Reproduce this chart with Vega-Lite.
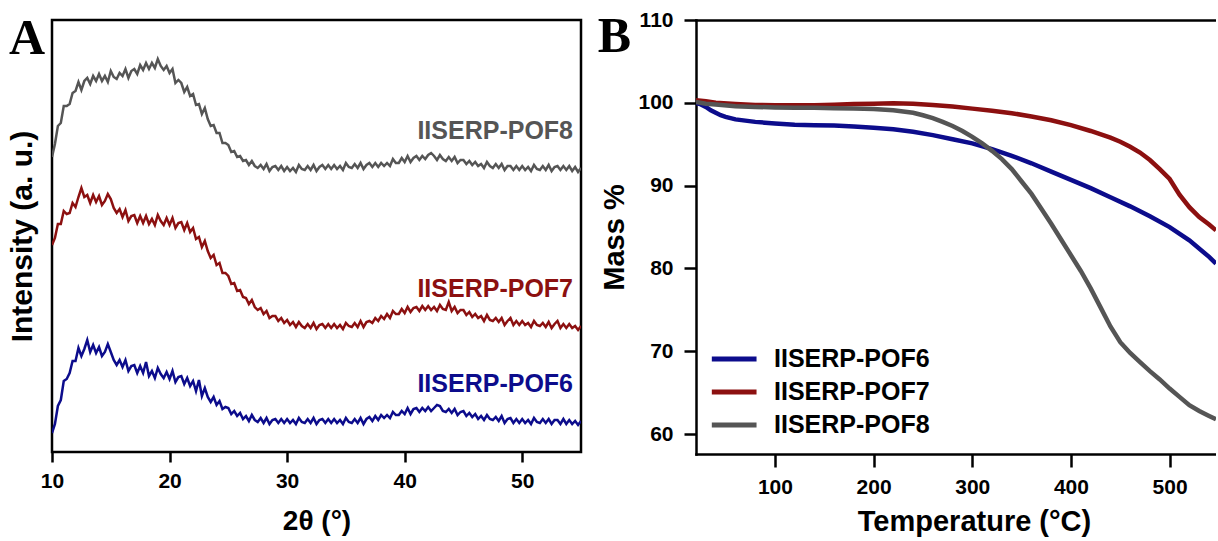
{
"$schema":"https://vega.github.io/schema/vega-lite/v6.json",
"background":"white",
"padding":{"left":5,"top":9,"right":0,"bottom":0},
"bounds":"flush",
"spacing":115,
"config":{"font":"Liberation Sans","view":{"stroke":null}},
"resolve":{"scale":{"color":"independent"}},
"datasets":{
"xrd":[
{"s":"IISERP-POF8","t":10,"i":295},{"s":"IISERP-POF8","t":10.25,"i":308},{"s":"IISERP-POF8","t":10.5,"i":326},{"s":"IISERP-POF8","t":10.75,"i":329},{"s":"IISERP-POF8","t":11,"i":346},{"s":"IISERP-POF8","t":11.25,"i":346},{"s":"IISERP-POF8","t":11.5,"i":348},{"s":"IISERP-POF8","t":11.75,"i":359},{"s":"IISERP-POF8","t":12,"i":361},{"s":"IISERP-POF8","t":12.25,"i":370},{"s":"IISERP-POF8","t":12.5,"i":362},{"s":"IISERP-POF8","t":12.75,"i":371},{"s":"IISERP-POF8","t":13,"i":374},{"s":"IISERP-POF8","t":13.25,"i":368},{"s":"IISERP-POF8","t":13.5,"i":376},{"s":"IISERP-POF8","t":13.75,"i":371},{"s":"IISERP-POF8","t":14,"i":378},{"s":"IISERP-POF8","t":14.25,"i":371},{"s":"IISERP-POF8","t":14.5,"i":376},{"s":"IISERP-POF8","t":14.75,"i":370},{"s":"IISERP-POF8","t":15,"i":381},{"s":"IISERP-POF8","t":15.25,"i":375},{"s":"IISERP-POF8","t":15.5,"i":373},{"s":"IISERP-POF8","t":15.75,"i":379},{"s":"IISERP-POF8","t":16,"i":376},{"s":"IISERP-POF8","t":16.25,"i":383},{"s":"IISERP-POF8","t":16.5,"i":374},{"s":"IISERP-POF8","t":16.75,"i":381},{"s":"IISERP-POF8","t":17,"i":383},{"s":"IISERP-POF8","t":17.25,"i":378},{"s":"IISERP-POF8","t":17.5,"i":387},{"s":"IISERP-POF8","t":17.75,"i":382},{"s":"IISERP-POF8","t":18,"i":389},{"s":"IISERP-POF8","t":18.25,"i":383},{"s":"IISERP-POF8","t":18.5,"i":389},{"s":"IISERP-POF8","t":18.75,"i":384},{"s":"IISERP-POF8","t":19,"i":393},{"s":"IISERP-POF8","t":19.25,"i":386},{"s":"IISERP-POF8","t":19.5,"i":382},{"s":"IISERP-POF8","t":19.75,"i":386},{"s":"IISERP-POF8","t":20,"i":379},{"s":"IISERP-POF8","t":20.25,"i":383},{"s":"IISERP-POF8","t":20.5,"i":369},{"s":"IISERP-POF8","t":20.75,"i":372},{"s":"IISERP-POF8","t":21,"i":369},{"s":"IISERP-POF8","t":21.25,"i":360},{"s":"IISERP-POF8","t":21.5,"i":365},{"s":"IISERP-POF8","t":21.75,"i":356},{"s":"IISERP-POF8","t":22,"i":358},{"s":"IISERP-POF8","t":22.25,"i":347},{"s":"IISERP-POF8","t":22.5,"i":348},{"s":"IISERP-POF8","t":22.75,"i":338},{"s":"IISERP-POF8","t":23,"i":344},{"s":"IISERP-POF8","t":23.25,"i":333},{"s":"IISERP-POF8","t":23.5,"i":326},{"s":"IISERP-POF8","t":23.75,"i":327},{"s":"IISERP-POF8","t":24,"i":319},{"s":"IISERP-POF8","t":24.25,"i":319},{"s":"IISERP-POF8","t":24.5,"i":309},{"s":"IISERP-POF8","t":24.75,"i":309},{"s":"IISERP-POF8","t":25,"i":307},{"s":"IISERP-POF8","t":25.25,"i":300},{"s":"IISERP-POF8","t":25.5,"i":301},{"s":"IISERP-POF8","t":25.75,"i":295},{"s":"IISERP-POF8","t":26,"i":296},{"s":"IISERP-POF8","t":26.25,"i":291},{"s":"IISERP-POF8","t":26.5,"i":292},{"s":"IISERP-POF8","t":26.75,"i":287},{"s":"IISERP-POF8","t":27,"i":291},{"s":"IISERP-POF8","t":27.25,"i":286},{"s":"IISERP-POF8","t":27.5,"i":284},{"s":"IISERP-POF8","t":27.75,"i":287},{"s":"IISERP-POF8","t":28,"i":283},{"s":"IISERP-POF8","t":28.25,"i":288},{"s":"IISERP-POF8","t":28.5,"i":281},{"s":"IISERP-POF8","t":28.75,"i":285},{"s":"IISERP-POF8","t":29,"i":286},{"s":"IISERP-POF8","t":29.25,"i":282},{"s":"IISERP-POF8","t":29.5,"i":286},{"s":"IISERP-POF8","t":29.75,"i":281},{"s":"IISERP-POF8","t":30,"i":285},{"s":"IISERP-POF8","t":30.25,"i":281},{"s":"IISERP-POF8","t":30.5,"i":284},{"s":"IISERP-POF8","t":30.75,"i":280},{"s":"IISERP-POF8","t":31,"i":287},{"s":"IISERP-POF8","t":31.25,"i":283},{"s":"IISERP-POF8","t":31.5,"i":282},{"s":"IISERP-POF8","t":31.75,"i":286},{"s":"IISERP-POF8","t":32,"i":282},{"s":"IISERP-POF8","t":32.25,"i":287},{"s":"IISERP-POF8","t":32.5,"i":281},{"s":"IISERP-POF8","t":32.75,"i":285},{"s":"IISERP-POF8","t":33,"i":287},{"s":"IISERP-POF8","t":33.25,"i":283},{"s":"IISERP-POF8","t":33.5,"i":287},{"s":"IISERP-POF8","t":33.75,"i":283},{"s":"IISERP-POF8","t":34,"i":287},{"s":"IISERP-POF8","t":34.25,"i":283},{"s":"IISERP-POF8","t":34.5,"i":286},{"s":"IISERP-POF8","t":34.75,"i":282},{"s":"IISERP-POF8","t":35,"i":289},{"s":"IISERP-POF8","t":35.25,"i":285},{"s":"IISERP-POF8","t":35.5,"i":284},{"s":"IISERP-POF8","t":35.75,"i":288},{"s":"IISERP-POF8","t":36,"i":284},{"s":"IISERP-POF8","t":36.25,"i":289},{"s":"IISERP-POF8","t":36.5,"i":283},{"s":"IISERP-POF8","t":36.75,"i":287},{"s":"IISERP-POF8","t":37,"i":289},{"s":"IISERP-POF8","t":37.25,"i":285},{"s":"IISERP-POF8","t":37.5,"i":289},{"s":"IISERP-POF8","t":37.75,"i":285},{"s":"IISERP-POF8","t":38,"i":289},{"s":"IISERP-POF8","t":38.25,"i":286},{"s":"IISERP-POF8","t":38.5,"i":289},{"s":"IISERP-POF8","t":38.75,"i":286},{"s":"IISERP-POF8","t":39,"i":293},{"s":"IISERP-POF8","t":39.25,"i":289},{"s":"IISERP-POF8","t":39.5,"i":289},{"s":"IISERP-POF8","t":39.75,"i":294},{"s":"IISERP-POF8","t":40,"i":290},{"s":"IISERP-POF8","t":40.25,"i":296},{"s":"IISERP-POF8","t":40.5,"i":290},{"s":"IISERP-POF8","t":40.75,"i":294},{"s":"IISERP-POF8","t":41,"i":296},{"s":"IISERP-POF8","t":41.25,"i":292},{"s":"IISERP-POF8","t":41.5,"i":296},{"s":"IISERP-POF8","t":41.75,"i":293},{"s":"IISERP-POF8","t":42,"i":297},{"s":"IISERP-POF8","t":42.25,"i":299},{"s":"IISERP-POF8","t":42.5,"i":296},{"s":"IISERP-POF8","t":42.75,"i":292},{"s":"IISERP-POF8","t":43,"i":297},{"s":"IISERP-POF8","t":43.25,"i":293},{"s":"IISERP-POF8","t":43.5,"i":291},{"s":"IISERP-POF8","t":43.75,"i":295},{"s":"IISERP-POF8","t":44,"i":291},{"s":"IISERP-POF8","t":44.25,"i":295},{"s":"IISERP-POF8","t":44.5,"i":289},{"s":"IISERP-POF8","t":44.75,"i":292},{"s":"IISERP-POF8","t":45,"i":292},{"s":"IISERP-POF8","t":45.25,"i":288},{"s":"IISERP-POF8","t":45.5,"i":291},{"s":"IISERP-POF8","t":45.75,"i":287},{"s":"IISERP-POF8","t":46,"i":290},{"s":"IISERP-POF8","t":46.25,"i":286},{"s":"IISERP-POF8","t":46.5,"i":288},{"s":"IISERP-POF8","t":46.75,"i":284},{"s":"IISERP-POF8","t":47,"i":290},{"s":"IISERP-POF8","t":47.25,"i":286},{"s":"IISERP-POF8","t":47.5,"i":284},{"s":"IISERP-POF8","t":47.75,"i":288},{"s":"IISERP-POF8","t":48,"i":284},{"s":"IISERP-POF8","t":48.25,"i":288},{"s":"IISERP-POF8","t":48.5,"i":282},{"s":"IISERP-POF8","t":48.75,"i":286},{"s":"IISERP-POF8","t":49,"i":286},{"s":"IISERP-POF8","t":49.25,"i":282},{"s":"IISERP-POF8","t":49.5,"i":286},{"s":"IISERP-POF8","t":49.75,"i":282},{"s":"IISERP-POF8","t":50,"i":286},{"s":"IISERP-POF8","t":50.25,"i":282},{"s":"IISERP-POF8","t":50.5,"i":285},{"s":"IISERP-POF8","t":50.75,"i":281},{"s":"IISERP-POF8","t":51,"i":287},{"s":"IISERP-POF8","t":51.25,"i":283},{"s":"IISERP-POF8","t":51.5,"i":282},{"s":"IISERP-POF8","t":51.75,"i":286},{"s":"IISERP-POF8","t":52,"i":282},{"s":"IISERP-POF8","t":52.25,"i":287},{"s":"IISERP-POF8","t":52.5,"i":281},{"s":"IISERP-POF8","t":52.75,"i":285},{"s":"IISERP-POF8","t":53,"i":286},{"s":"IISERP-POF8","t":53.25,"i":282},{"s":"IISERP-POF8","t":53.5,"i":286},{"s":"IISERP-POF8","t":53.75,"i":282},{"s":"IISERP-POF8","t":54,"i":286},{"s":"IISERP-POF8","t":54.25,"i":281},{"s":"IISERP-POF8","t":54.5,"i":285},{"s":"IISERP-POF8","t":54.75,"i":280},{"s":"IISERP-POF8","t":55,"i":284},
{"s":"IISERP-POF7","t":10,"i":207},{"s":"IISERP-POF7","t":10.25,"i":214},{"s":"IISERP-POF7","t":10.5,"i":228},{"s":"IISERP-POF7","t":10.75,"i":228},{"s":"IISERP-POF7","t":11,"i":241},{"s":"IISERP-POF7","t":11.25,"i":238},{"s":"IISERP-POF7","t":11.5,"i":239},{"s":"IISERP-POF7","t":11.75,"i":249},{"s":"IISERP-POF7","t":12,"i":245},{"s":"IISERP-POF7","t":12.25,"i":255},{"s":"IISERP-POF7","t":12.5,"i":264},{"s":"IISERP-POF7","t":12.75,"i":255},{"s":"IISERP-POF7","t":13,"i":257},{"s":"IISERP-POF7","t":13.25,"i":249},{"s":"IISERP-POF7","t":13.5,"i":257},{"s":"IISERP-POF7","t":13.75,"i":250},{"s":"IISERP-POF7","t":14,"i":256},{"s":"IISERP-POF7","t":14.25,"i":247},{"s":"IISERP-POF7","t":14.5,"i":251},{"s":"IISERP-POF7","t":14.75,"i":258},{"s":"IISERP-POF7","t":15,"i":253},{"s":"IISERP-POF7","t":15.25,"i":244},{"s":"IISERP-POF7","t":15.5,"i":239},{"s":"IISERP-POF7","t":15.75,"i":243},{"s":"IISERP-POF7","t":16,"i":235},{"s":"IISERP-POF7","t":16.25,"i":242},{"s":"IISERP-POF7","t":16.5,"i":231},{"s":"IISERP-POF7","t":16.75,"i":236},{"s":"IISERP-POF7","t":17,"i":237},{"s":"IISERP-POF7","t":17.25,"i":229},{"s":"IISERP-POF7","t":17.5,"i":236},{"s":"IISERP-POF7","t":17.75,"i":229},{"s":"IISERP-POF7","t":18,"i":236},{"s":"IISERP-POF7","t":18.25,"i":228},{"s":"IISERP-POF7","t":18.5,"i":233},{"s":"IISERP-POF7","t":18.75,"i":227},{"s":"IISERP-POF7","t":19,"i":237},{"s":"IISERP-POF7","t":19.25,"i":231},{"s":"IISERP-POF7","t":19.5,"i":227},{"s":"IISERP-POF7","t":19.75,"i":234},{"s":"IISERP-POF7","t":20,"i":227},{"s":"IISERP-POF7","t":20.25,"i":234},{"s":"IISERP-POF7","t":20.5,"i":224},{"s":"IISERP-POF7","t":20.75,"i":229},{"s":"IISERP-POF7","t":21,"i":230},{"s":"IISERP-POF7","t":21.25,"i":222},{"s":"IISERP-POF7","t":21.5,"i":229},{"s":"IISERP-POF7","t":21.75,"i":220},{"s":"IISERP-POF7","t":22,"i":224},{"s":"IISERP-POF7","t":22.25,"i":213},{"s":"IISERP-POF7","t":22.5,"i":215},{"s":"IISERP-POF7","t":22.75,"i":205},{"s":"IISERP-POF7","t":23,"i":211},{"s":"IISERP-POF7","t":23.25,"i":201},{"s":"IISERP-POF7","t":23.5,"i":194},{"s":"IISERP-POF7","t":23.75,"i":197},{"s":"IISERP-POF7","t":24,"i":187},{"s":"IISERP-POF7","t":24.25,"i":189},{"s":"IISERP-POF7","t":24.5,"i":179},{"s":"IISERP-POF7","t":24.75,"i":179},{"s":"IISERP-POF7","t":25,"i":176},{"s":"IISERP-POF7","t":25.25,"i":168},{"s":"IISERP-POF7","t":25.5,"i":169},{"s":"IISERP-POF7","t":25.75,"i":161},{"s":"IISERP-POF7","t":26,"i":162},{"s":"IISERP-POF7","t":26.25,"i":155},{"s":"IISERP-POF7","t":26.5,"i":154},{"s":"IISERP-POF7","t":26.75,"i":148},{"s":"IISERP-POF7","t":27,"i":152},{"s":"IISERP-POF7","t":27.25,"i":145},{"s":"IISERP-POF7","t":27.5,"i":142},{"s":"IISERP-POF7","t":27.75,"i":144},{"s":"IISERP-POF7","t":28,"i":138},{"s":"IISERP-POF7","t":28.25,"i":141},{"s":"IISERP-POF7","t":28.5,"i":134},{"s":"IISERP-POF7","t":28.75,"i":136},{"s":"IISERP-POF7","t":29,"i":136},{"s":"IISERP-POF7","t":29.25,"i":131},{"s":"IISERP-POF7","t":29.5,"i":134},{"s":"IISERP-POF7","t":29.75,"i":129},{"s":"IISERP-POF7","t":30,"i":132},{"s":"IISERP-POF7","t":30.25,"i":127},{"s":"IISERP-POF7","t":30.5,"i":130},{"s":"IISERP-POF7","t":30.75,"i":125},{"s":"IISERP-POF7","t":31,"i":130},{"s":"IISERP-POF7","t":31.25,"i":126},{"s":"IISERP-POF7","t":31.5,"i":124},{"s":"IISERP-POF7","t":31.75,"i":128},{"s":"IISERP-POF7","t":32,"i":124},{"s":"IISERP-POF7","t":32.25,"i":129},{"s":"IISERP-POF7","t":32.5,"i":123},{"s":"IISERP-POF7","t":32.75,"i":127},{"s":"IISERP-POF7","t":33,"i":128},{"s":"IISERP-POF7","t":33.25,"i":124},{"s":"IISERP-POF7","t":33.5,"i":128},{"s":"IISERP-POF7","t":33.75,"i":124},{"s":"IISERP-POF7","t":34,"i":128},{"s":"IISERP-POF7","t":34.25,"i":124},{"s":"IISERP-POF7","t":34.5,"i":127},{"s":"IISERP-POF7","t":34.75,"i":123},{"s":"IISERP-POF7","t":35,"i":129},{"s":"IISERP-POF7","t":35.25,"i":126},{"s":"IISERP-POF7","t":35.5,"i":125},{"s":"IISERP-POF7","t":35.75,"i":129},{"s":"IISERP-POF7","t":36,"i":125},{"s":"IISERP-POF7","t":36.25,"i":131},{"s":"IISERP-POF7","t":36.5,"i":125},{"s":"IISERP-POF7","t":36.75,"i":130},{"s":"IISERP-POF7","t":37,"i":131},{"s":"IISERP-POF7","t":37.25,"i":129},{"s":"IISERP-POF7","t":37.5,"i":134},{"s":"IISERP-POF7","t":37.75,"i":131},{"s":"IISERP-POF7","t":38,"i":136},{"s":"IISERP-POF7","t":38.25,"i":133},{"s":"IISERP-POF7","t":38.5,"i":138},{"s":"IISERP-POF7","t":38.75,"i":134},{"s":"IISERP-POF7","t":39,"i":141},{"s":"IISERP-POF7","t":39.25,"i":138},{"s":"IISERP-POF7","t":39.5,"i":138},{"s":"IISERP-POF7","t":39.75,"i":143},{"s":"IISERP-POF7","t":40,"i":139},{"s":"IISERP-POF7","t":40.25,"i":145},{"s":"IISERP-POF7","t":40.5,"i":140},{"s":"IISERP-POF7","t":40.75,"i":144},{"s":"IISERP-POF7","t":41,"i":145},{"s":"IISERP-POF7","t":41.25,"i":141},{"s":"IISERP-POF7","t":41.5,"i":146},{"s":"IISERP-POF7","t":41.75,"i":142},{"s":"IISERP-POF7","t":42,"i":146},{"s":"IISERP-POF7","t":42.25,"i":142},{"s":"IISERP-POF7","t":42.5,"i":145},{"s":"IISERP-POF7","t":42.75,"i":141},{"s":"IISERP-POF7","t":43,"i":147},{"s":"IISERP-POF7","t":43.25,"i":143},{"s":"IISERP-POF7","t":43.5,"i":142},{"s":"IISERP-POF7","t":43.75,"i":150},{"s":"IISERP-POF7","t":44,"i":141},{"s":"IISERP-POF7","t":44.25,"i":145},{"s":"IISERP-POF7","t":44.5,"i":139},{"s":"IISERP-POF7","t":44.75,"i":142},{"s":"IISERP-POF7","t":45,"i":142},{"s":"IISERP-POF7","t":45.25,"i":137},{"s":"IISERP-POF7","t":45.5,"i":140},{"s":"IISERP-POF7","t":45.75,"i":135},{"s":"IISERP-POF7","t":46,"i":138},{"s":"IISERP-POF7","t":46.25,"i":134},{"s":"IISERP-POF7","t":46.5,"i":136},{"s":"IISERP-POF7","t":46.75,"i":131},{"s":"IISERP-POF7","t":47,"i":137},{"s":"IISERP-POF7","t":47.25,"i":132},{"s":"IISERP-POF7","t":47.5,"i":131},{"s":"IISERP-POF7","t":47.75,"i":134},{"s":"IISERP-POF7","t":48,"i":130},{"s":"IISERP-POF7","t":48.25,"i":134},{"s":"IISERP-POF7","t":48.5,"i":127},{"s":"IISERP-POF7","t":48.75,"i":131},{"s":"IISERP-POF7","t":49,"i":134},{"s":"IISERP-POF7","t":49.25,"i":127},{"s":"IISERP-POF7","t":49.5,"i":131},{"s":"IISERP-POF7","t":49.75,"i":127},{"s":"IISERP-POF7","t":50,"i":131},{"s":"IISERP-POF7","t":50.25,"i":127},{"s":"IISERP-POF7","t":50.5,"i":129},{"s":"IISERP-POF7","t":50.75,"i":125},{"s":"IISERP-POF7","t":51,"i":131},{"s":"IISERP-POF7","t":51.25,"i":127},{"s":"IISERP-POF7","t":51.5,"i":126},{"s":"IISERP-POF7","t":51.75,"i":129},{"s":"IISERP-POF7","t":52,"i":125},{"s":"IISERP-POF7","t":52.25,"i":130},{"s":"IISERP-POF7","t":52.5,"i":124},{"s":"IISERP-POF7","t":52.75,"i":128},{"s":"IISERP-POF7","t":53,"i":131},{"s":"IISERP-POF7","t":53.25,"i":124},{"s":"IISERP-POF7","t":53.5,"i":128},{"s":"IISERP-POF7","t":53.75,"i":124},{"s":"IISERP-POF7","t":54,"i":128},{"s":"IISERP-POF7","t":54.25,"i":124},{"s":"IISERP-POF7","t":54.5,"i":126},{"s":"IISERP-POF7","t":54.75,"i":122},{"s":"IISERP-POF7","t":55,"i":126},
{"s":"IISERP-POF6","t":10,"i":19},{"s":"IISERP-POF6","t":10.25,"i":28},{"s":"IISERP-POF6","t":10.5,"i":46},{"s":"IISERP-POF6","t":10.75,"i":52},{"s":"IISERP-POF6","t":11,"i":71},{"s":"IISERP-POF6","t":11.25,"i":73},{"s":"IISERP-POF6","t":11.5,"i":79},{"s":"IISERP-POF6","t":11.75,"i":91},{"s":"IISERP-POF6","t":12,"i":91},{"s":"IISERP-POF6","t":12.25,"i":104},{"s":"IISERP-POF6","t":12.5,"i":96},{"s":"IISERP-POF6","t":12.75,"i":103},{"s":"IISERP-POF6","t":13,"i":112},{"s":"IISERP-POF6","t":13.25,"i":100},{"s":"IISERP-POF6","t":13.5,"i":107},{"s":"IISERP-POF6","t":13.75,"i":99},{"s":"IISERP-POF6","t":14,"i":105},{"s":"IISERP-POF6","t":14.25,"i":96},{"s":"IISERP-POF6","t":14.5,"i":100},{"s":"IISERP-POF6","t":14.75,"i":108},{"s":"IISERP-POF6","t":15,"i":100},{"s":"IISERP-POF6","t":15.25,"i":92},{"s":"IISERP-POF6","t":15.5,"i":87},{"s":"IISERP-POF6","t":15.75,"i":92},{"s":"IISERP-POF6","t":16,"i":85},{"s":"IISERP-POF6","t":16.25,"i":92},{"s":"IISERP-POF6","t":16.5,"i":81},{"s":"IISERP-POF6","t":16.75,"i":86},{"s":"IISERP-POF6","t":17,"i":87},{"s":"IISERP-POF6","t":17.25,"i":79},{"s":"IISERP-POF6","t":17.5,"i":86},{"s":"IISERP-POF6","t":17.75,"i":79},{"s":"IISERP-POF6","t":18,"i":90},{"s":"IISERP-POF6","t":18.25,"i":76},{"s":"IISERP-POF6","t":18.5,"i":81},{"s":"IISERP-POF6","t":18.75,"i":74},{"s":"IISERP-POF6","t":19,"i":84},{"s":"IISERP-POF6","t":19.25,"i":78},{"s":"IISERP-POF6","t":19.5,"i":74},{"s":"IISERP-POF6","t":19.75,"i":80},{"s":"IISERP-POF6","t":20,"i":73},{"s":"IISERP-POF6","t":20.25,"i":81},{"s":"IISERP-POF6","t":20.5,"i":70},{"s":"IISERP-POF6","t":20.75,"i":75},{"s":"IISERP-POF6","t":21,"i":76},{"s":"IISERP-POF6","t":21.25,"i":68},{"s":"IISERP-POF6","t":21.5,"i":74},{"s":"IISERP-POF6","t":21.75,"i":66},{"s":"IISERP-POF6","t":22,"i":71},{"s":"IISERP-POF6","t":22.25,"i":61},{"s":"IISERP-POF6","t":22.5,"i":72},{"s":"IISERP-POF6","t":22.75,"i":56},{"s":"IISERP-POF6","t":23,"i":64},{"s":"IISERP-POF6","t":23.25,"i":55},{"s":"IISERP-POF6","t":23.5,"i":50},{"s":"IISERP-POF6","t":23.75,"i":55},{"s":"IISERP-POF6","t":24,"i":47},{"s":"IISERP-POF6","t":24.25,"i":51},{"s":"IISERP-POF6","t":24.5,"i":43},{"s":"IISERP-POF6","t":24.75,"i":45},{"s":"IISERP-POF6","t":25,"i":44},{"s":"IISERP-POF6","t":25.25,"i":38},{"s":"IISERP-POF6","t":25.5,"i":41},{"s":"IISERP-POF6","t":25.75,"i":36},{"s":"IISERP-POF6","t":26,"i":39},{"s":"IISERP-POF6","t":26.25,"i":33},{"s":"IISERP-POF6","t":26.5,"i":36},{"s":"IISERP-POF6","t":26.75,"i":31},{"s":"IISERP-POF6","t":27,"i":37},{"s":"IISERP-POF6","t":27.25,"i":32},{"s":"IISERP-POF6","t":27.5,"i":30},{"s":"IISERP-POF6","t":27.75,"i":34},{"s":"IISERP-POF6","t":28,"i":29},{"s":"IISERP-POF6","t":28.25,"i":34},{"s":"IISERP-POF6","t":28.5,"i":28},{"s":"IISERP-POF6","t":28.75,"i":32},{"s":"IISERP-POF6","t":29,"i":33},{"s":"IISERP-POF6","t":29.25,"i":29},{"s":"IISERP-POF6","t":29.5,"i":33},{"s":"IISERP-POF6","t":29.75,"i":29},{"s":"IISERP-POF6","t":30,"i":33},{"s":"IISERP-POF6","t":30.25,"i":29},{"s":"IISERP-POF6","t":30.5,"i":32},{"s":"IISERP-POF6","t":30.75,"i":28},{"s":"IISERP-POF6","t":31,"i":34},{"s":"IISERP-POF6","t":31.25,"i":30},{"s":"IISERP-POF6","t":31.5,"i":29},{"s":"IISERP-POF6","t":31.75,"i":33},{"s":"IISERP-POF6","t":32,"i":29},{"s":"IISERP-POF6","t":32.25,"i":34},{"s":"IISERP-POF6","t":32.5,"i":28},{"s":"IISERP-POF6","t":32.75,"i":32},{"s":"IISERP-POF6","t":33,"i":33},{"s":"IISERP-POF6","t":33.25,"i":29},{"s":"IISERP-POF6","t":33.5,"i":33},{"s":"IISERP-POF6","t":33.75,"i":29},{"s":"IISERP-POF6","t":34,"i":33},{"s":"IISERP-POF6","t":34.25,"i":29},{"s":"IISERP-POF6","t":34.5,"i":32},{"s":"IISERP-POF6","t":34.75,"i":28},{"s":"IISERP-POF6","t":35,"i":34},{"s":"IISERP-POF6","t":35.25,"i":30},{"s":"IISERP-POF6","t":35.5,"i":29},{"s":"IISERP-POF6","t":35.75,"i":33},{"s":"IISERP-POF6","t":36,"i":29},{"s":"IISERP-POF6","t":36.25,"i":34},{"s":"IISERP-POF6","t":36.5,"i":28},{"s":"IISERP-POF6","t":36.75,"i":33},{"s":"IISERP-POF6","t":37,"i":35},{"s":"IISERP-POF6","t":37.25,"i":31},{"s":"IISERP-POF6","t":37.5,"i":36},{"s":"IISERP-POF6","t":37.75,"i":32},{"s":"IISERP-POF6","t":38,"i":37},{"s":"IISERP-POF6","t":38.25,"i":34},{"s":"IISERP-POF6","t":38.5,"i":37},{"s":"IISERP-POF6","t":38.75,"i":34},{"s":"IISERP-POF6","t":39,"i":40},{"s":"IISERP-POF6","t":39.25,"i":37},{"s":"IISERP-POF6","t":39.5,"i":37},{"s":"IISERP-POF6","t":39.75,"i":41},{"s":"IISERP-POF6","t":40,"i":38},{"s":"IISERP-POF6","t":40.25,"i":44},{"s":"IISERP-POF6","t":40.5,"i":38},{"s":"IISERP-POF6","t":40.75,"i":43},{"s":"IISERP-POF6","t":41,"i":44},{"s":"IISERP-POF6","t":41.25,"i":40},{"s":"IISERP-POF6","t":41.5,"i":44},{"s":"IISERP-POF6","t":41.75,"i":41},{"s":"IISERP-POF6","t":42,"i":45},{"s":"IISERP-POF6","t":42.25,"i":41},{"s":"IISERP-POF6","t":42.5,"i":44},{"s":"IISERP-POF6","t":42.75,"i":47},{"s":"IISERP-POF6","t":43,"i":46},{"s":"IISERP-POF6","t":43.25,"i":41},{"s":"IISERP-POF6","t":43.5,"i":40},{"s":"IISERP-POF6","t":43.75,"i":43},{"s":"IISERP-POF6","t":44,"i":39},{"s":"IISERP-POF6","t":44.25,"i":43},{"s":"IISERP-POF6","t":44.5,"i":37},{"s":"IISERP-POF6","t":44.75,"i":40},{"s":"IISERP-POF6","t":45,"i":41},{"s":"IISERP-POF6","t":45.25,"i":36},{"s":"IISERP-POF6","t":45.5,"i":39},{"s":"IISERP-POF6","t":45.75,"i":35},{"s":"IISERP-POF6","t":46,"i":38},{"s":"IISERP-POF6","t":46.25,"i":33},{"s":"IISERP-POF6","t":46.5,"i":36},{"s":"IISERP-POF6","t":46.75,"i":32},{"s":"IISERP-POF6","t":47,"i":37},{"s":"IISERP-POF6","t":47.25,"i":33},{"s":"IISERP-POF6","t":47.5,"i":32},{"s":"IISERP-POF6","t":47.75,"i":35},{"s":"IISERP-POF6","t":48,"i":31},{"s":"IISERP-POF6","t":48.25,"i":36},{"s":"IISERP-POF6","t":48.5,"i":29},{"s":"IISERP-POF6","t":48.75,"i":33},{"s":"IISERP-POF6","t":49,"i":34},{"s":"IISERP-POF6","t":49.25,"i":29},{"s":"IISERP-POF6","t":49.5,"i":33},{"s":"IISERP-POF6","t":49.75,"i":29},{"s":"IISERP-POF6","t":50,"i":33},{"s":"IISERP-POF6","t":50.25,"i":29},{"s":"IISERP-POF6","t":50.5,"i":32},{"s":"IISERP-POF6","t":50.75,"i":28},{"s":"IISERP-POF6","t":51,"i":34},{"s":"IISERP-POF6","t":51.25,"i":30},{"s":"IISERP-POF6","t":51.5,"i":29},{"s":"IISERP-POF6","t":51.75,"i":33},{"s":"IISERP-POF6","t":52,"i":29},{"s":"IISERP-POF6","t":52.25,"i":33},{"s":"IISERP-POF6","t":52.5,"i":28},{"s":"IISERP-POF6","t":52.75,"i":32},{"s":"IISERP-POF6","t":53,"i":32},{"s":"IISERP-POF6","t":53.25,"i":28},{"s":"IISERP-POF6","t":53.5,"i":33},{"s":"IISERP-POF6","t":53.75,"i":28},{"s":"IISERP-POF6","t":54,"i":32},{"s":"IISERP-POF6","t":54.25,"i":28},{"s":"IISERP-POF6","t":54.5,"i":31},{"s":"IISERP-POF6","t":54.75,"i":27},{"s":"IISERP-POF6","t":55,"i":31}
],
"tga":[
{"s":"IISERP-POF6","T":20,"M":100.0},{"s":"IISERP-POF6","T":25,"M":99.8},{"s":"IISERP-POF6","T":30,"M":99.5},{"s":"IISERP-POF6","T":35,"M":99.1},{"s":"IISERP-POF6","T":40,"M":98.8},{"s":"IISERP-POF6","T":45,"M":98.5},{"s":"IISERP-POF6","T":50,"M":98.3},{"s":"IISERP-POF6","T":60,"M":98.0},{"s":"IISERP-POF6","T":70,"M":97.85},{"s":"IISERP-POF6","T":80,"M":97.7},{"s":"IISERP-POF6","T":90,"M":97.6},{"s":"IISERP-POF6","T":100,"M":97.5},{"s":"IISERP-POF6","T":120,"M":97.35},{"s":"IISERP-POF6","T":140,"M":97.3},{"s":"IISERP-POF6","T":160,"M":97.25},{"s":"IISERP-POF6","T":180,"M":97.15},{"s":"IISERP-POF6","T":200,"M":97.0},{"s":"IISERP-POF6","T":220,"M":96.8},{"s":"IISERP-POF6","T":240,"M":96.5},{"s":"IISERP-POF6","T":260,"M":96.1},{"s":"IISERP-POF6","T":280,"M":95.6},{"s":"IISERP-POF6","T":300,"M":95.1},{"s":"IISERP-POF6","T":320,"M":94.4},{"s":"IISERP-POF6","T":340,"M":93.6},{"s":"IISERP-POF6","T":360,"M":92.7},{"s":"IISERP-POF6","T":380,"M":91.7},{"s":"IISERP-POF6","T":400,"M":90.7},{"s":"IISERP-POF6","T":420,"M":89.7},{"s":"IISERP-POF6","T":440,"M":88.6},{"s":"IISERP-POF6","T":460,"M":87.5},{"s":"IISERP-POF6","T":480,"M":86.3},{"s":"IISERP-POF6","T":500,"M":85.0},{"s":"IISERP-POF6","T":520,"M":83.4},{"s":"IISERP-POF6","T":540,"M":81.4},{"s":"IISERP-POF6","T":547,"M":80.6},
{"s":"IISERP-POF7","T":20,"M":100.3},{"s":"IISERP-POF7","T":30,"M":100.2},{"s":"IISERP-POF7","T":40,"M":100.0},{"s":"IISERP-POF7","T":60,"M":99.85},{"s":"IISERP-POF7","T":80,"M":99.75},{"s":"IISERP-POF7","T":100,"M":99.7},{"s":"IISERP-POF7","T":120,"M":99.7},{"s":"IISERP-POF7","T":140,"M":99.72},{"s":"IISERP-POF7","T":160,"M":99.78},{"s":"IISERP-POF7","T":180,"M":99.85},{"s":"IISERP-POF7","T":200,"M":99.9},{"s":"IISERP-POF7","T":220,"M":99.95},{"s":"IISERP-POF7","T":240,"M":99.9},{"s":"IISERP-POF7","T":260,"M":99.75},{"s":"IISERP-POF7","T":280,"M":99.55},{"s":"IISERP-POF7","T":300,"M":99.3},{"s":"IISERP-POF7","T":320,"M":99.05},{"s":"IISERP-POF7","T":340,"M":98.75},{"s":"IISERP-POF7","T":360,"M":98.35},{"s":"IISERP-POF7","T":380,"M":97.9},{"s":"IISERP-POF7","T":400,"M":97.3},{"s":"IISERP-POF7","T":420,"M":96.6},{"s":"IISERP-POF7","T":440,"M":95.8},{"s":"IISERP-POF7","T":450,"M":95.3},{"s":"IISERP-POF7","T":460,"M":94.7},{"s":"IISERP-POF7","T":470,"M":94.0},{"s":"IISERP-POF7","T":480,"M":93.1},{"s":"IISERP-POF7","T":490,"M":92.0},{"s":"IISERP-POF7","T":500,"M":90.8},{"s":"IISERP-POF7","T":510,"M":88.9},{"s":"IISERP-POF7","T":520,"M":87.4},{"s":"IISERP-POF7","T":530,"M":86.2},{"s":"IISERP-POF7","T":540,"M":85.3},{"s":"IISERP-POF7","T":547,"M":84.6},
{"s":"IISERP-POF8","T":20,"M":100.1},{"s":"IISERP-POF8","T":30,"M":99.9},{"s":"IISERP-POF8","T":40,"M":99.8},{"s":"IISERP-POF8","T":60,"M":99.6},{"s":"IISERP-POF8","T":80,"M":99.5},{"s":"IISERP-POF8","T":100,"M":99.45},{"s":"IISERP-POF8","T":120,"M":99.4},{"s":"IISERP-POF8","T":140,"M":99.4},{"s":"IISERP-POF8","T":160,"M":99.35},{"s":"IISERP-POF8","T":180,"M":99.3},{"s":"IISERP-POF8","T":200,"M":99.25},{"s":"IISERP-POF8","T":220,"M":99.1},{"s":"IISERP-POF8","T":230,"M":98.95},{"s":"IISERP-POF8","T":240,"M":98.8},{"s":"IISERP-POF8","T":250,"M":98.5},{"s":"IISERP-POF8","T":260,"M":98.15},{"s":"IISERP-POF8","T":270,"M":97.7},{"s":"IISERP-POF8","T":280,"M":97.2},{"s":"IISERP-POF8","T":290,"M":96.6},{"s":"IISERP-POF8","T":300,"M":95.9},{"s":"IISERP-POF8","T":310,"M":95.1},{"s":"IISERP-POF8","T":320,"M":94.2},{"s":"IISERP-POF8","T":330,"M":93.2},{"s":"IISERP-POF8","T":340,"M":92.0},{"s":"IISERP-POF8","T":350,"M":90.5},{"s":"IISERP-POF8","T":360,"M":89.0},{"s":"IISERP-POF8","T":370,"M":87.2},{"s":"IISERP-POF8","T":380,"M":85.4},{"s":"IISERP-POF8","T":390,"M":83.5},{"s":"IISERP-POF8","T":400,"M":81.6},{"s":"IISERP-POF8","T":410,"M":79.7},{"s":"IISERP-POF8","T":420,"M":77.6},{"s":"IISERP-POF8","T":430,"M":75.3},{"s":"IISERP-POF8","T":440,"M":73.0},{"s":"IISERP-POF8","T":450,"M":71.1},{"s":"IISERP-POF8","T":460,"M":69.8},{"s":"IISERP-POF8","T":470,"M":68.7},{"s":"IISERP-POF8","T":480,"M":67.6},{"s":"IISERP-POF8","T":490,"M":66.6},{"s":"IISERP-POF8","T":500,"M":65.5},{"s":"IISERP-POF8","T":510,"M":64.5},{"s":"IISERP-POF8","T":520,"M":63.5},{"s":"IISERP-POF8","T":530,"M":62.8},{"s":"IISERP-POF8","T":540,"M":62.2},{"s":"IISERP-POF8","T":547,"M":61.8}
]
},
"hconcat":[
{
"width":529,"height":432,
"view":{"stroke":"black","strokeWidth":2.5},
"layer":[
{"data":{"name":"xrd"},
"mark":{"type":"line","strokeWidth":2.5,"clip":true},
"encoding":{
"x":{"field":"t","type":"quantitative","scale":{"domain":[10,55],"nice":false,"zero":false},"axis":{"values":[10,20,30,40,50],"title":"2θ (°)","domain":false,"grid":false,"tickSize":10,"tickWidth":2.5,"tickColor":"black","labelFontSize":21,"labelFontWeight":"bold","labelColor":"black","labelPadding":8,"labelFlush":false,"titleFontSize":28,"titleFontWeight":"bold","titleColor":"black","titlePadding":16}},
"y":{"field":"i","type":"quantitative","scale":{"domain":[0,432],"nice":false,"zero":false},"axis":{"title":"Intensity (a. u.)","labels":false,"ticks":false,"domain":false,"grid":false,"titleFontSize":30,"titleFontWeight":"bold","titleColor":"black","titlePadding":15}},
"color":{"field":"s","type":"nominal","scale":{"domain":["IISERP-POF6","IISERP-POF7","IISERP-POF8"],"range":["#0c0c8c","#8c1010","#555555"]},"legend":null}
}},
{"data":{"name":"xrd"},
"transform":[{"filter":"datum.t == 55"}],
"mark":{"type":"text","align":"right","baseline":"middle","dx":-8,"dy":-37,"fontSize":25,"fontWeight":"bold"},
"encoding":{
"x":{"field":"t","type":"quantitative"},
"y":{"field":"i","type":"quantitative"},
"text":{"field":"s"},
"color":{"field":"s","type":"nominal","legend":null}
}},
{"data":{"values":[{"panel":"A"}]},
"mark":{"type":"text","font":"Liberation Serif","fontSize":50,"fontWeight":"bold","color":"black","align":"right","baseline":"alphabetic","dx":-7,"dy":34},
"encoding":{"x":{"datum":10},"y":{"datum":432},"text":{"field":"panel"}}}
]
},
{
"width":520,"height":434,
"view":{"stroke":null},
"layer":[
{"data":{"name":"tga"},
"mark":{"type":"line","strokeWidth":4.5,"clip":true},
"encoding":{
"x":{"field":"T","type":"quantitative","scale":{"domain":[20,547],"nice":false,"zero":false},"axis":{"orient":"bottom","values":[100,200,300,400,500],"title":"Temperature (°C)","grid":false,"domainWidth":2.5,"domainColor":"black","domainCap":"square","tickSize":13,"tickWidth":2.5,"tickColor":"black","labelFontSize":21,"labelFontWeight":"bold","labelColor":"black","labelPadding":9,"titleFontSize":29,"titleFontWeight":"bold","titleColor":"black","titlePadding":10,"titleX":278}},
"y":{"field":"M","type":"quantitative","scale":{"domain":[57.6,110],"nice":false,"zero":false},"axis":{"values":[60,70,80,90,100,110],"title":"Mass %","grid":false,"domainWidth":2.5,"domainColor":"black","domainCap":"square","tickSize":12,"tickWidth":2.5,"tickColor":"black","labelFontSize":21,"labelFontWeight":"bold","labelColor":"black","labelPadding":11,"titleFontSize":29,"titleFontWeight":"bold","titleColor":"black","titlePadding":8}},
"color":{"field":"s","type":"nominal","scale":{"domain":["IISERP-POF6","IISERP-POF7","IISERP-POF8"],"range":["#0c0c8c","#8c1010","#555555"]},"legend":{"orient":"none","legendX":13,"legendY":325,"title":null,"padding":0,"symbolType":"M-1,0H3","symbolSize":500,"symbolStrokeWidth":5,"labelFontSize":25,"labelFontWeight":"bold","labelColor":"black","labelOffset":37,"rowPadding":6}}
}},
{"data":{"values":[{"panel":"B"}]},
"mark":{"type":"text","font":"Liberation Serif","fontSize":50,"fontWeight":"bold","color":"black","align":"right","baseline":"alphabetic","dx":-65,"dy":32},
"encoding":{
"x":{"datum":20,"axis":{"orient":"top","labels":false,"ticks":false,"title":null,"grid":false,"domainWidth":2.5,"domainColor":"black","domainCap":"square"}},
"y":{"datum":110},
"text":{"field":"panel"}}}
]
}
]
}
